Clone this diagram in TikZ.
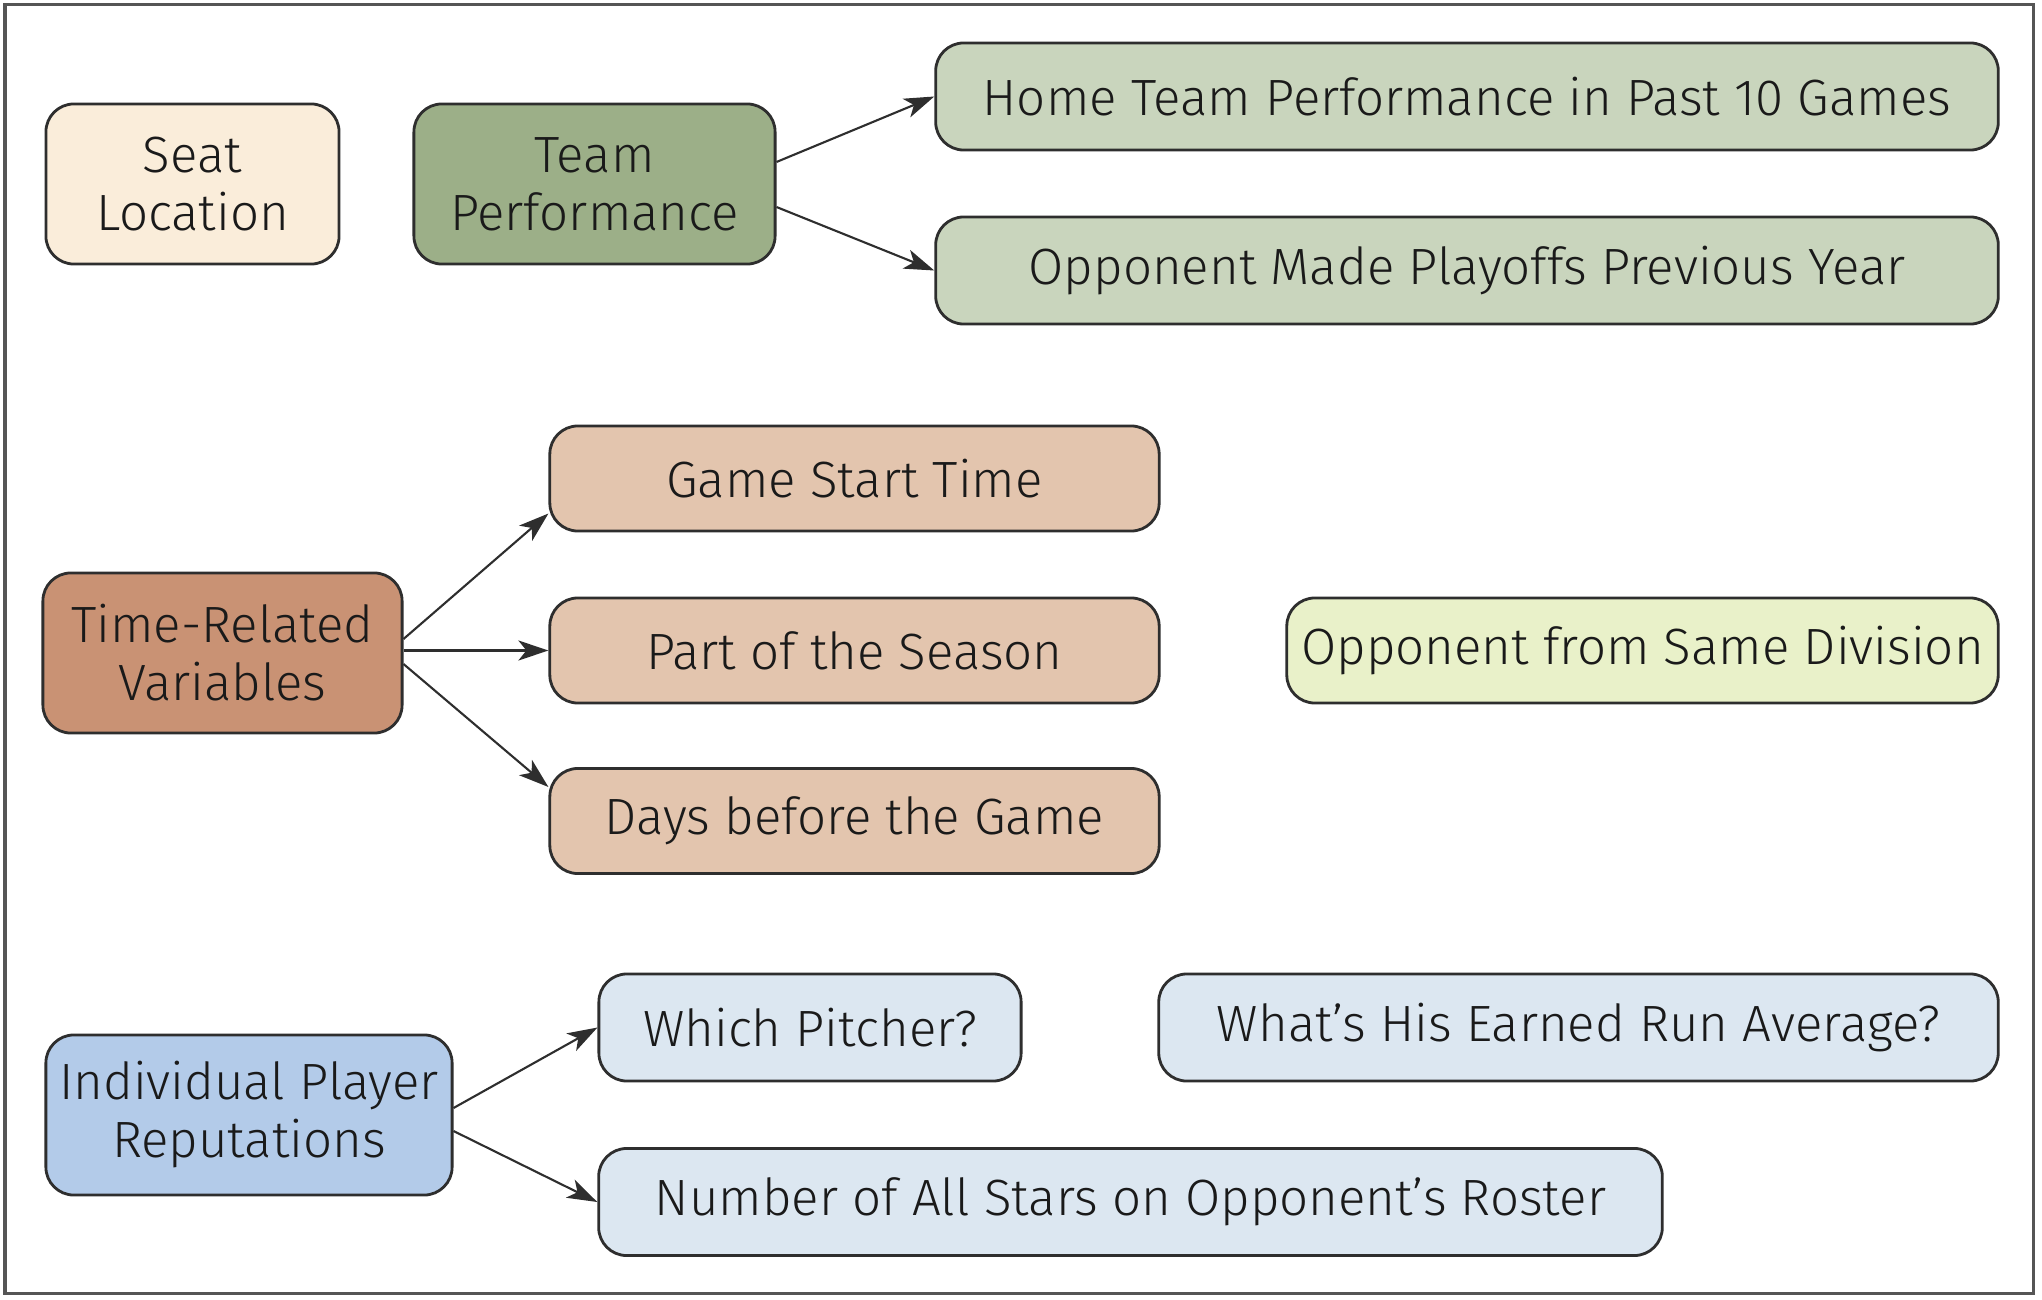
\documentclass[tikz,border=0pt]{standalone}
\usepackage{fontspec}
\setmainfont{Fira Sans}[UprightFont=* Light]
\usetikzlibrary{arrows.meta}
\definecolor{cSeat}{HTML}{FAEDDA}
\definecolor{cTeam}{HTML}{9CAF88}
\definecolor{cTeamL}{HTML}{C9D5BD}
\definecolor{cTime}{HTML}{C99274}
\definecolor{cTimeL}{HTML}{E3C5AE}
\definecolor{cDiv}{HTML}{E9F1C9}
\definecolor{cInd}{HTML}{B3CBE9}
\definecolor{cIndL}{HTML}{DCE7F1}
\definecolor{cLine}{HTML}{2E2E2E}
\definecolor{cFrame}{HTML}{555555}
\definecolor{cText}{HTML}{1A1A1A}
\begin{document}
\begin{tikzpicture}[x=0.01cm,y=-0.01cm,
  box/.style={draw=cLine, line width=0.8pt, rounded corners=0.28cm, inner sep=0pt,
    align=center, text=cText, font=\fontsize{14.5pt}{16.5pt}\selectfont},
  arr/.style={draw=cLine, line width=0.6pt, -{Stealth[length=0.3cm,width=0.2cm,inset=0.08cm]}},
]
\useasboundingbox (0,0) rectangle (2042,1300);
\draw[cFrame, line width=0.03cm] (5,5) rectangle (2033,1293);

\node[box, fill=cSeat, minimum width=2.93cm, minimum height=1.60cm] (seat) at (192.5,184) {Seat\\Location};
\node[box, fill=cTeam, minimum width=3.61cm, minimum height=1.60cm] (team) at (594.5,184) {Team\\Performance};
\node[box, fill=cTeamL, minimum width=10.62cm, minimum height=1.07cm] (home) at (1467,96.5) {Home Team Performance in Past 10 Games};
\node[box, fill=cTeamL, minimum width=10.62cm, minimum height=1.07cm] (opp) at (1467,270.5) {Opponent Made Playoffs Previous Year};

\node[box, fill=cTime, minimum width=3.59cm, minimum height=1.60cm] (time) at (222.5,653) {Time-Related\\Variables};
\node[box, fill=cTimeL, minimum width=6.09cm, minimum height=1.05cm] (game) at (854.5,478.5) {Game Start Time};
\node[box, fill=cTimeL, minimum width=6.09cm, minimum height=1.05cm] (part) at (854.5,650.5) {Part of the Season};
\node[box, fill=cTimeL, minimum width=6.09cm, minimum height=1.05cm] (days) at (854.5,821) {Days before the Game};
\node[box, fill=cDiv, minimum width=7.11cm, minimum height=1.05cm] (div) at (1642.5,650.5) {Opponent from Same Division};

\node[box, fill=cInd, minimum width=4.06cm, minimum height=1.60cm] (ind) at (249,1115) {Individual Player\\Reputations};
\node[box, fill=cIndL, minimum width=4.22cm, minimum height=1.07cm] (pitch) at (810,1027.5) {Which Pitcher?};
\node[box, fill=cIndL, minimum width=8.39cm, minimum height=1.07cm] (era) at (1578.5,1027.5) {What’s His Earned Run Average?};
\node[box, fill=cIndL, minimum width=10.63cm, minimum height=1.07cm] (stars) at (1130.5,1202) {Number of All Stars on Opponent’s Roster};

\draw[arr] ([yshift=0.22cm]team.east) -- (home.west);
\draw[arr] ([yshift=-0.23cm]team.east) -- (opp.west);
\draw[arr] ([yshift=0.14cm]time.east) -- ([yshift=-0.35cm]game.west);
\draw[arr] (time.east |- part.west) -- (part.west);
\draw[arr] ([yshift=-0.11cm]time.east) -- ([yshift=0.34cm]days.west);
\draw[arr] ([yshift=0.07cm]ind.east) -- (pitch.west);
\draw[arr] ([yshift=-0.16cm]ind.east) -- (stars.west);
\end{tikzpicture}
\end{document}
